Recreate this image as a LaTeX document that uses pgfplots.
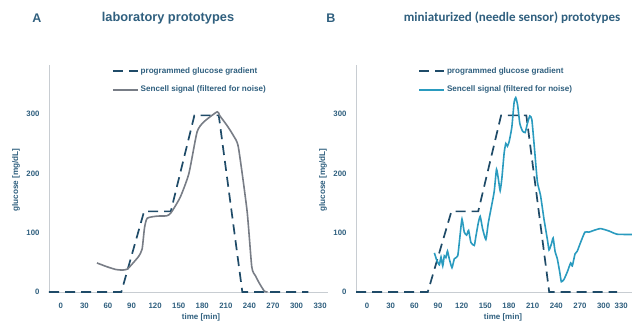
\documentclass[border=0pt]{standalone}
\usepackage{pgfplots}
\pgfplotsset{compat=1.18}
\usepackage{fontspec}
\setmainfont{Liberation Sans}
\newfontfamily\carlito{Carlito}
\definecolor{txt}{HTML}{2F5F7E}
\definecolor{dashc}{HTML}{1F4B68}
\definecolor{sgray}{HTML}{787D86}
\definecolor{steal}{HTML}{2A9BBF}
\definecolor{axgray}{HTML}{C8CDD2}
\pgfplotsset{
  panel/.style={
    scale only axis, width=279pt, height=227pt, anchor=south west,
    xmin=-15, xmax=340, ymin=0, ymax=383,
    axis lines=left, axis line style={draw=axgray, line width=0.9pt, -},
    xtick={0,30,...,330}, ytick={0,100,200,300},
    major tick length=0pt,
    /pgf/number format/assume math mode=true,
    tick label style={font=\bfseries\fontsize{7.8}{9}\selectfont, text=txt},
    xticklabel style={yshift=-8pt},
    yticklabel style={xshift=-6pt},
    legend cell align=left,
    legend style={draw=none, fill=none, anchor=north west, at={(0.225,0.998)},
      font=\bfseries\fontsize{8.1}{9}\selectfont, text=txt, row sep=7pt,
      inner sep=0pt},
    legend image code/.code={\draw[#1] (0pt,0pt) -- (25pt,0pt);},
    dashline/.style={dashc, line width=1.7pt, dash pattern=on 10pt off 6pt},
  }
}
\begin{document}
\begin{tikzpicture}
\useasboundingbox (0,0) rectangle (632pt,-321pt);
% Titles
\node[font=\bfseries\fontsize{12.5}{14}\selectfont, text=txt] at (37pt,-18pt) {A};
\node[font=\bfseries\fontsize{12.8}{14}\selectfont, text=txt] at (168pt,-18pt) {laboratory prototypes};
\node[font=\bfseries\fontsize{12.5}{14}\selectfont, text=txt] at (331pt,-18pt) {B};
\node[font=\carlito\bfseries\fontsize{13}{15}\selectfont, text=txt] at (512pt,-18pt) {miniaturized (needle sensor) prototypes};
% Axis labels
\node[rotate=90, font=\bfseries\fontsize{8.2}{9}\selectfont, text=txt] at (16pt,-180pt) {glucose [mg/dL]};
\node[rotate=90, font=\bfseries\fontsize{8.2}{9}\selectfont, text=txt] at (323pt,-180pt) {glucose [mg/dL]};
\node[font=\bfseries\fontsize{8}{9}\selectfont, text=txt] at (201pt,-317pt) {time [min]};
\node[font=\bfseries\fontsize{8}{9}\selectfont, text=txt] at (503pt,-317pt) {time [min]};

\begin{axis}[panel, at={(49pt,-292pt)}]
\addplot[dashline] coordinates {(-15,0)(77,0)(106,136)(140,136)(170,298)(201,298)(231,0)(315,0)};
\addlegendentry{programmed glucose gradient}
\addplot[sgray, line width=1.6pt, smooth, tension=0.35] coordinates {
(46,49)(59,42.5)(70,38)(78,37)(84.5,38.5)(91,47.5)(99,60)(103.5,72.5)(106.5,108)(110,124.5)
(122.6,128)(135,128.6)(140.4,134)(152,160)(163,200)(173.4,270)(182,287)(199,304)(202,298)
(212,280)(220,263)(226,244)(237,137)(243,42.5)(247.6,27.5)(253,14)(259,1.5)(263,0)};
\addlegendentry{Sencell signal (filtered for noise)}
\end{axis}

\begin{axis}[panel, at={(356pt,-292pt)}, width=276pt, xmin=-14, xmax=336,
  xtick={0,30,...,300}, extra x ticks={330},
  extra x tick style={xticklabel style={anchor=north east, xshift=4pt}}]
\addplot[dashline] coordinates {(-14,0)(77,0)(107,136)(141,136)(170,298)(202,298)(231,0)(317,0)};
\addlegendentry{programmed glucose gradient}
\addplot[steal, line width=1.6pt, smooth, tension=0.3] coordinates {
(85.4,66)(88.3,54)(91.7,46)(93.8,59)(96,44)(98,61)(100,58)(102,69)(104.3,56)(107.7,41)
(110.7,56)(115,61)(117.8,93.5)(120.4,123)(123.3,101)(126.3,96)(128.8,104)(131.7,83.6)
(136,78.6)(138,93.5)(141,116)(143.5,127.6)(146.5,107)(150.7,88.6)(153.7,116)(157,139)
(161.2,169)(164.2,207)(166.7,189)(168.8,171)(171,192)(173.9,235)(176,250.6)(178,246)
(180.2,253.7)(183.6,278)(186.5,320)(188.6,328)(191,315)(193.7,284.6)(197,272)(200.5,269)
(203.4,284.6)(206.4,297)(209,291)(212,247)(216,186)(220,163)(224.5,122)(228.7,88.6)
(230.8,71)(233.8,81)(236,91)(238.4,68.7)(241.3,56)(244.3,34)(246.4,17.4)(249.8,21.4)
(254,34)(258.2,49)(260.3,44)(263.7,64)(266.6,69)(270.9,84)(276.3,101)(281.4,101)
(287.7,104)(296,107)(306.7,103)(317,97.5)(336,97)};
\addlegendentry{Sencell signal (filtered for noise)}
\end{axis}
\end{tikzpicture}
\end{document}
